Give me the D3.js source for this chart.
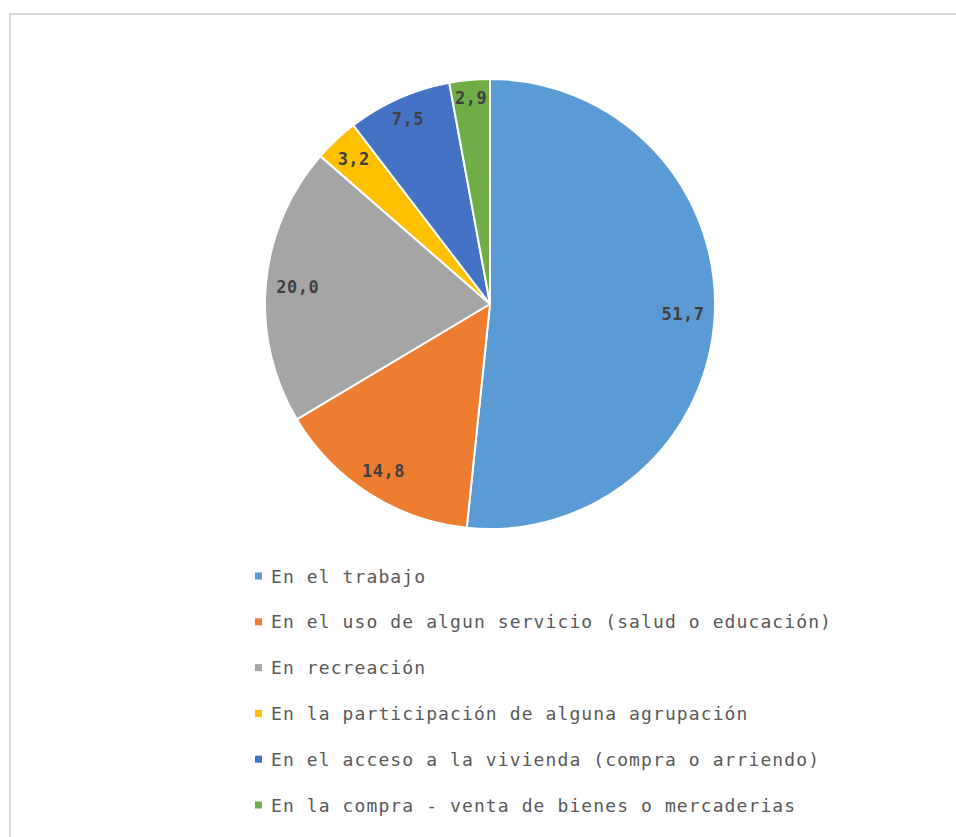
<!DOCTYPE html>
<html>
<head>
<meta charset="utf-8">
<script src="https://cdn.jsdelivr.net/npm/d3@7/dist/d3.min.js"></script>
<style>
  html, body { margin: 0; padding: 0; background: #ffffff; }
  svg { display: block; }
</style>
</head>
<body>
<script>
// Categories and their shares (%), in clockwise order from 12 o'clock
const categories = [
  "En el trabajo",
  "En el uso de algun servicio (salud o educación)",
  "En recreación",
  "En la participación de alguna agrupación",
  "En el acceso a la vivienda (compra o arriendo)",
  "En la compra - venta de bienes o mercaderias"
];
const values = [51.7, 14.8, 20.0, 3.2, 7.5, 2.9];
const colors = ["#5B9BD5", "#ED7D31", "#A5A5A5", "#FFC000", "#4472C4", "#70AD47"];

const W = 956, H = 837;
const cx = 490, cy = 304, R = 225;

const svg = d3.select("body").append("svg")
  .attr("width", W).attr("height", H);

// chart frame
svg.append("rect")
  .attr("x", 10).attr("y", 14)
  .attr("width", W).attr("height", H)
  .attr("fill", "#ffffff")
  .attr("stroke", "#d9d9d9")
  .attr("stroke-width", 2);

const data = categories.map((c, i) => ({ name: c, value: values[i], color: colors[i] }));

const pie = d3.pie().value(d => d.value).sort(null);
const arc = d3.arc().innerRadius(0).outerRadius(R);
const arcs = pie(data);

const g = svg.append("g").attr("transform", `translate(${cx},${cy})`);

g.selectAll("path.slice")
  .data(arcs)
  .join("path")
  .attr("class", "slice")
  .attr("d", arc)
  .attr("fill", d => d.data.color)
  .attr("stroke", "#ffffff")
  .attr("stroke-width", 2)
  .attr("stroke-linejoin", "round");

// value labels, placed just inside the outer edge of each slice
const fmt = v => v.toFixed(1).replace(".", ",");
const pad = 10;

const labels = g.selectAll("text.val")
  .data(arcs)
  .join("text")
  .attr("class", "val")
  .attr("text-anchor", "middle")
  .attr("dominant-baseline", "central")
  .style("font-family", "'DejaVu Sans Mono', monospace")
  .style("font-weight", "bold")
  .style("font-size", "17px")
  .style("letter-spacing", "0.5px")
  .attr("fill", "#404040")
  .text(d => fmt(d.data.value));

labels.each(function(d) {
  const bb = this.getBBox();
  const w = bb.width, h = 13;
  const a = (d.startAngle + d.endAngle) / 2;
  const ux = Math.sin(a), uy = -Math.cos(a);
  const half = Math.abs(ux) * w / 2 + Math.abs(uy) * h / 2;
  const rr = R - pad - half;
  d3.select(this).attr("x", ux * rr).attr("y", uy * rr);
});

// legend
const legendX = 255, legendY0 = 576, legendStep = 45.8;
const lg = svg.append("g");
const rows = lg.selectAll("g.row")
  .data(data)
  .join("g")
  .attr("class", "row")
  .attr("transform", (d, i) => `translate(${legendX},${legendY0 + i * legendStep})`);

rows.append("rect")
  .attr("x", 0).attr("y", -3.5)
  .attr("width", 7).attr("height", 7)
  .attr("fill", d => d.color);

rows.append("text")
  .attr("x", 16)
  .attr("y", 0)
  .attr("dominant-baseline", "central")
  .style("font-family", "'DejaVu Sans Mono', monospace")
  .style("font-size", "18px")
  .style("letter-spacing", "1.1px")
  .attr("fill", "#595959")
  .text(d => d.name);
</script>
</body>
</html>
